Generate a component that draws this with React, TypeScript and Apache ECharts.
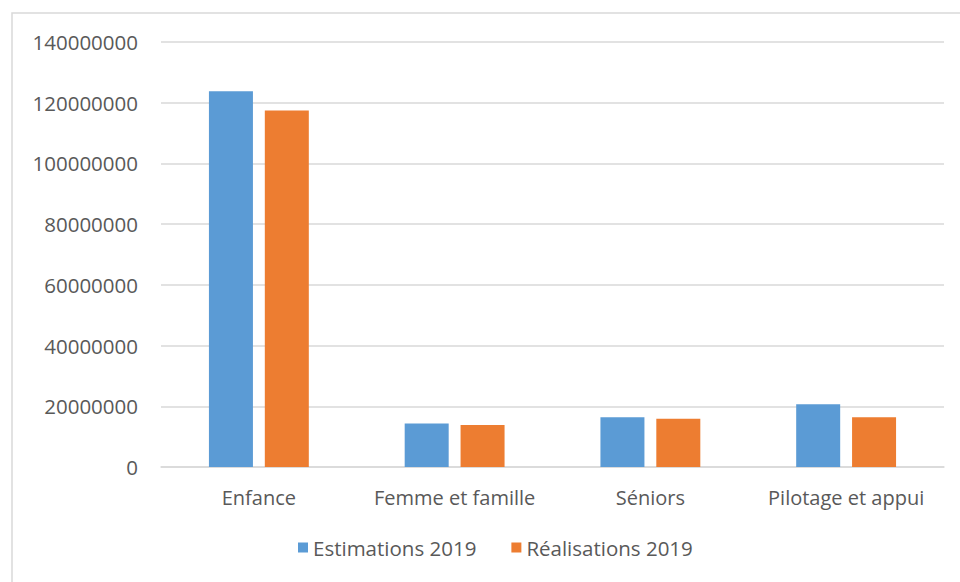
import React, { useEffect, useRef } from "react";
import * as echarts from "echarts";

const categories = ["Enfance", "Femme et famille", "Séniors", "Pilotage et appui"];
const estimations2019 = [123800000, 14300000, 16400000, 20700000];
const realisations2019 = [117400000, 13800000, 15900000, 16400000];
const seriesNames = ["Estimations 2019", "Réalisations 2019"];

export default function App() {
  const ref = useRef<HTMLDivElement>(null);
  useEffect(() => {
    if (!ref.current) return;
    const chart = echarts.init(ref.current, null, { renderer: "svg" });
    const font = "'Open Sans', 'Noto Sans', sans-serif";
    chart.setOption({
      animation: false,
      backgroundColor: "#ffffff",
      color: ["#5B9BD5", "#ED7D31"],
      graphic: [
        {
          type: "rect",
          shape: { x: 12, y: 13, width: 980, height: 600 },
          style: { fill: "none", stroke: "#d9d9d9", lineWidth: 1.5 },
          silent: true,
        },
      ],
      grid: { left: 161, right: 16, top: 42, bottom: 115, containLabel: false },
      legend: {
        bottom: 19,
        left: 293,
        itemWidth: 10,
        itemHeight: 10,
        itemGap: 35,
        icon: "rect",
        textStyle: { color: "#595959", fontSize: 20.5, fontFamily: font },
        data: seriesNames,
      },
      xAxis: {
        type: "category",
        data: categories,
        axisLine: { lineStyle: { color: "#d9d9d9", width: 1.5 } },
        axisTick: { show: false },
        axisLabel: {
          color: "#595959",
          fontSize: 20,
          margin: 20,
          fontFamily: font,
          interval: 0,
        },
      },
      yAxis: {
        type: "value",
        min: 0,
        max: 140000000,
        interval: 20000000,
        axisLine: { show: false },
        axisTick: { show: false },
        splitLine: { lineStyle: { color: "#d9d9d9", width: 1.5 } },
        axisLabel: {
          color: "#595959",
          fontSize: 20.5,
          margin: 23,
          fontFamily: font,
          formatter: (v: number) => String(v),
        },
      },
      series: [
        {
          name: seriesNames[0],
          type: "bar",
          data: estimations2019,
          barWidth: 44,
          barGap: "27%",
        },
        {
          name: seriesNames[1],
          type: "bar",
          data: realisations2019,
          barWidth: 44,
          barGap: "27%",
        },
      ],
    });
    return () => chart.dispose();
  }, []);
  return (
    <div
      ref={ref}
      style={{ position: "absolute", left: 0, top: 0, width: 960, height: 582 }}
    />
  );
}
